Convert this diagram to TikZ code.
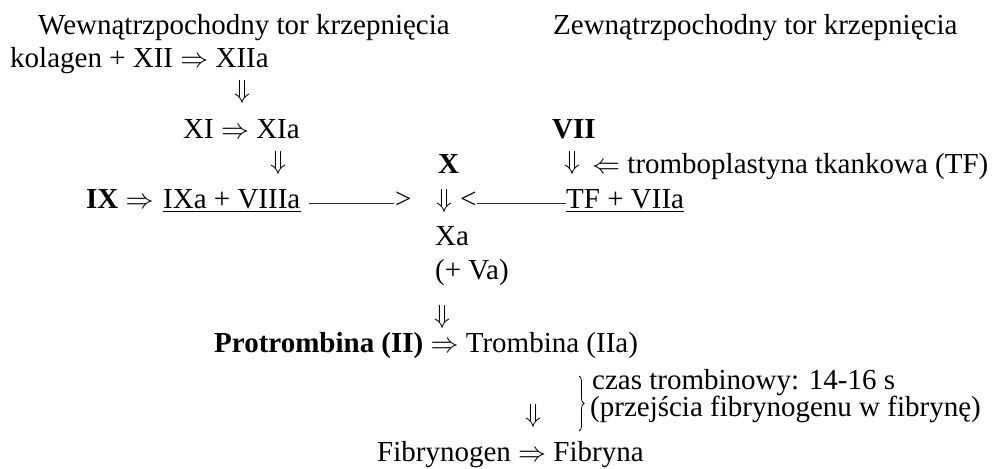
\documentclass[tikz,border=0pt]{standalone}
\usepackage{graphicx}
\usepackage{fontspec}
\setmainfont{Liberation Serif}
\usetikzlibrary{decorations.pathreplacing}
% double arrows at a fixed printed size
\newcommand\arrR{\resizebox{28pt}{!}{$\Rightarrow$}}
\newcommand\arrL{\resizebox{28pt}{!}{$\Leftarrow$}}
\newcommand\arrD{\resizebox{16pt}{!}{$\Downarrow$}}
\begin{document}
\begin{tikzpicture}[x=1pt,y=-1pt,
  txt/.style={font=\fontsize{29}{34}\selectfont, inner sep=0pt, anchor=base west},
  darr/.style={inner sep=0pt, anchor=center},
  uline/.style={line width=1pt},
  link/.style={line width=0.9pt, black!80}]
\useasboundingbox (0,0) rectangle (992,468);

% headings
\node[txt] (intr) at (38,35) {Wewnątrzpochodny tor krzepnięcia};
\node[txt] (extr) at (553,35) {Zewnątrzpochodny tor krzepnięcia};

% intrinsic pathway
\node[txt] (xii) at (10,68) {kolagen + XII \arrR{} XIIa};
\node[darr] (d1) at (242,92) {\arrD};
\node[txt] (xi) at (183,138) {XI \arrR{} XIa};
\node[darr] (d2) at (278,163) {\arrD};
\node[txt] (ix) at (86,208) {\textbf{IX} \arrR};
\node[txt] (ixa) at (163,208) {IXa + VIIIa};
\draw[uline] ([yshift=-3.5pt]ixa.base west) -- ([yshift=-3.5pt]ixa.base east);
\node[txt] (gt) at (395,208) {>};
\draw[link] ([shift={(8pt,4.5pt)}]ixa.base east) -- ([shift={(-1pt,4.5pt)}]gt.base west);

% extrinsic pathway
\node[txt] (vii) at (552,138) {\textbf{VII}};
\node[darr] (d3) at (572,163) {\arrD};
\node[txt] (tfl) at (592,173) {\arrL{} tromboplastyna tkankowa (TF)};
\node[txt] (tf) at (566,208) {TF + VIIa};
\draw[uline] ([yshift=-3.5pt]tf.base west) -- ([yshift=-3.5pt]tf.base east);

% common pathway
\node[txt] (x) at (438,173) {\textbf{X}};
\node[darr] (d4) at (444,201) {\arrD};
\node[txt] (lt) at (460,208) {<};
\draw[link] ([shift={(0pt,4.5pt)}]lt.base east) -- ([yshift=4.5pt]tf.base west);
\node[txt] (xa) at (435,245) {Xa};
\node[txt] (va) at (435,279) {(+ Va)};
\node[darr] (d5) at (442,317) {\arrD};
\node[txt] (ii) at (214,352) {\textbf{Protrombina (II)} \arrR{} Trombina (IIa)};
\node[darr] (d6) at (533,416) {\arrD};
\coordinate (bt) at (579,376);
\coordinate (bb) at (579,431);
\draw[decorate, decoration={brace, amplitude=5pt}, line width=0.8pt] (bt) -- (bb);
\node[txt] (czas) at (592,389) {czas trombinowy: 14-16 s};
\node[txt] (przej) at (590,416) {(przejścia fibrynogenu w fibrynę)};
\node[txt] (fib) at (377,461) {Fibrynogen \arrR{} Fibryna};
\end{tikzpicture}
\end{document}
